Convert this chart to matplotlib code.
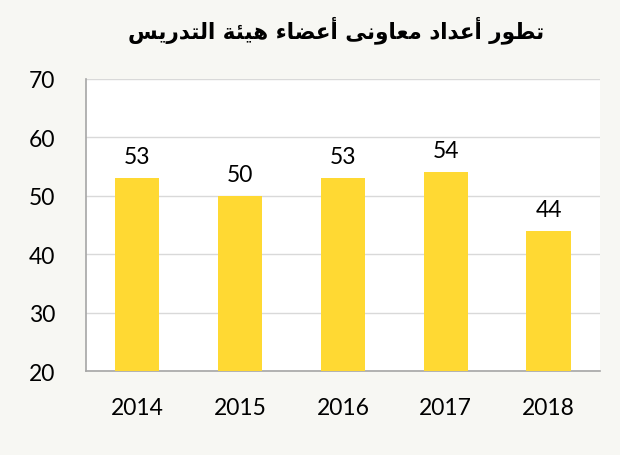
import matplotlib
matplotlib.use("Agg")
import matplotlib.pyplot as plt
import numpy as np

# data
years = ["2014", "2015", "2016", "2017", "2018"]
counts = [53, 50, 53, 54, 44]
title_text = "تطور أعداد معاونى أعضاء هيئة التدريس"

# matplotlib has no arabic shaping, so do a small one by hand
# letter: (isolated, final, initial, medial); None = does not join left
forms = {
    "ا": ("\uFE8D", "\uFE8E", None, None),
    "أ": ("\uFE83", "\uFE84", None, None),
    "ت": ("\uFE95", "\uFE96", "\uFE97", "\uFE98"),
    "ط": ("\uFEC1", "\uFEC2", "\uFEC3", "\uFEC4"),
    "و": ("\uFEED", "\uFEEE", None, None),
    "ر": ("\uFEAD", "\uFEAE", None, None),
    "د": ("\uFEA9", "\uFEAA", None, None),
    "ع": ("\uFEC9", "\uFECA", "\uFECB", "\uFECC"),
    "م": ("\uFEE1", "\uFEE2", "\uFEE3", "\uFEE4"),
    "ن": ("\uFEE5", "\uFEE6", "\uFEE7", "\uFEE8"),
    "ى": ("\uFEEF", "\uFEF0", None, None),
    "ض": ("\uFEBD", "\uFEBE", "\uFEBF", "\uFEC0"),
    "ء": ("\uFE80", None, None, None),
    "ه": ("\uFEE9", "\uFEEA", "\uFEEB", "\uFEEC"),
    "ي": ("\uFEF1", "\uFEF2", "\uFEF3", "\uFEF4"),
    "ئ": ("\uFE89", "\uFE8A", "\uFE8B", "\uFE8C"),
    "ة": ("\uFE93", "\uFE94", None, None),
    "ل": ("\uFEDD", "\uFEDE", "\uFEDF", "\uFEE0"),
    "س": ("\uFEB1", "\uFEB2", "\uFEB3", "\uFEB4"),
}


def shape_word(w):
    out = []
    for i, ch in enumerate(w):
        f = forms[ch]
        prev = w[i - 1] if i > 0 else None
        nxt = w[i + 1] if i < len(w) - 1 else None
        join_prev = prev is not None and forms[prev][2] is not None and f[1] is not None
        join_next = nxt is not None and f[2] is not None and forms[nxt][1] is not None
        if join_prev and join_next:
            out.append(f[3])
        elif join_prev:
            out.append(f[1])
        elif join_next:
            out.append(f[2])
        else:
            out.append(f[0])
    return "".join(out)[::-1]


def shape(text):
    return " ".join(shape_word(w) for w in text.split(" ")[::-1])


bg = "#f7f7f3"
bar_color = "#ffd933"

fig = plt.figure(figsize=(6.2, 4.56), dpi=100, facecolor=bg)
ax = fig.add_axes([0.1387, 0.1842, 0.829, 0.6404])
ax.set_facecolor("white")

x = np.arange(len(years))
bars = ax.bar(x, counts, width=0.43, color=bar_color, zorder=3)

ax.set_ylim(20, 70)
ax.set_xlim(-0.5, len(years) - 0.5)
ax.set_yticks(np.arange(20, 71, 10))
ax.set_xticks(x)
ax.set_xticklabels(years)
ax.grid(axis="y", color="#d9d9d9", linewidth=1, zorder=0)
ax.tick_params(axis="both", length=0, labelsize=16.5)
ax.tick_params(axis="y", pad=22)
ax.tick_params(axis="x", pad=19)
for s in ["top", "right"]:
    ax.spines[s].set_visible(False)
for s in ["left", "bottom"]:
    ax.spines[s].set_color("#a6a6a6")
    ax.spines[s].set_linewidth(1.2)

for xi, v in zip(x, counts):
    ax.annotate(str(v), (xi, v), xytext=(0, 8), textcoords="offset points",
                ha="center", va="bottom", fontsize=16.5)

for lbl in ax.get_xticklabels() + ax.get_yticklabels():
    lbl.set_family("Lato")
for t in ax.texts:
    t.set_family("Lato")

fig.text(0.542, 0.935, shape(title_text), ha="center", va="center",
         fontsize=15.5, fontweight="bold", family="DejaVu Sans")

fig.savefig("out.png", dpi=100, facecolor=bg)
